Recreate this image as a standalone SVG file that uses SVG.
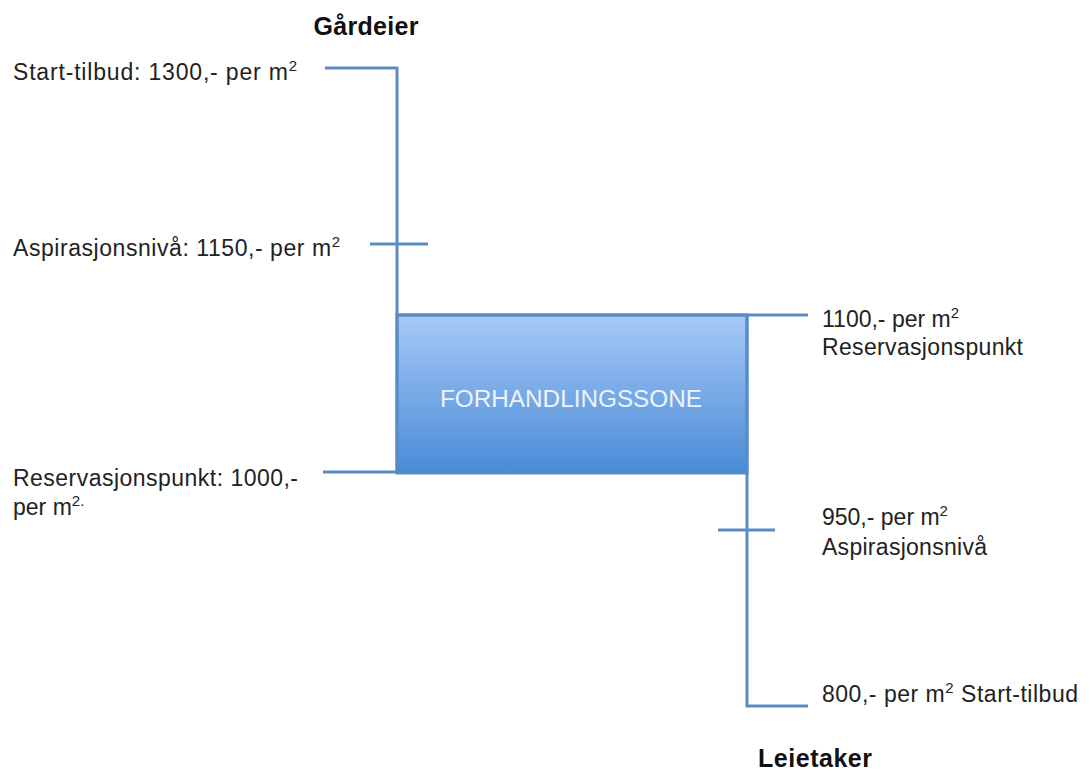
<svg xmlns="http://www.w3.org/2000/svg" width="1090" height="771" viewBox="0 0 1090 771">
  <defs>
    <linearGradient id="zoneFill" x1="0" y1="0" x2="0" y2="1">
      <stop offset="0" stop-color="#a6c9f7"/>
      <stop offset="1" stop-color="#4a8bd6"/>
    </linearGradient>
    <style>
      .lbl { font-family: "Liberation Sans", Arial, sans-serif; font-size: 23px; fill: #222; }
      .hdr { font-family: "Liberation Sans", Arial, sans-serif; font-size: 25px; font-weight: bold; fill: #111; }
      .sup { font-size: 15px; }
      .ln { fill: none; stroke: #5b8bc5; stroke-width: 3; }
      .zone-text { font-family: "Liberation Sans", Arial, sans-serif; font-size: 23px; fill: #eef4fd; }
    </style>
  </defs>
  <rect width="1090" height="771" fill="#ffffff"/>

  <!-- negotiation zone box -->
  <g id="zone">
    <rect x="397" y="315" width="350" height="158" fill="url(#zoneFill)" stroke="#5b8bc5" stroke-width="3"/>
    <text class="zone-text" x="571" y="407" text-anchor="middle" textLength="262" lengthAdjust="spacingAndGlyphs">FORHANDLINGSSONE</text>
  </g>

  <!-- scale lines and ticks -->
  <g id="connectors">
    <path class="ln" d="M325,68 H397 V472 H323"/>
    <path class="ln" d="M370,244 H428"/>
    <path class="ln" d="M397,315 H808"/>
    <path class="ln" d="M747,315 V706 H808"/>
    <path class="ln" d="M718,530 H775"/>
  </g>

  <!-- landlord side -->
  <g id="gardeier">
    <text class="hdr" x="366" y="35" text-anchor="middle" textLength="105">Gårdeier</text>
  </g>
  <g id="start-1300">
    <text class="lbl" x="13" y="80" textLength="284">Start-tilbud: 1300,- per m<tspan class="sup" dy="-9">2</tspan></text>
  </g>
  <g id="asp-1150">
    <text class="lbl" x="13" y="256" textLength="327">Aspirasjonsnivå: 1150,- per m<tspan class="sup" dy="-9">2</tspan></text>
  </g>
  <g id="res-1000">
    <text class="lbl" x="13" y="486" textLength="285">Reservasjonspunkt: 1000,-</text>
    <text class="lbl" x="13" y="515">per m<tspan class="sup" dy="-9">2.</tspan></text>
  </g>

  <!-- tenant side -->
  <g id="res-1100">
    <text class="lbl" x="822" y="327">1100,- per m<tspan class="sup" dy="-9">2</tspan></text>
    <text class="lbl" x="822" y="355" textLength="201">Reservasjonspunkt</text>
  </g>
  <g id="asp-950">
    <text class="lbl" x="822" y="525">950,- per m<tspan class="sup" dy="-9">2</tspan></text>
    <text class="lbl" x="822" y="555" textLength="165">Aspirasjonsnivå</text>
  </g>
  <g id="start-800">
    <text class="lbl" x="822" y="702" textLength="256">800,- per m<tspan class="sup" dy="-9">2</tspan><tspan dy="9"> Start-tilbud</tspan></text>
  </g>
  <g id="leietaker">
    <text class="hdr" x="758" y="767" textLength="114">Leietaker</text>
  </g>
</svg>
